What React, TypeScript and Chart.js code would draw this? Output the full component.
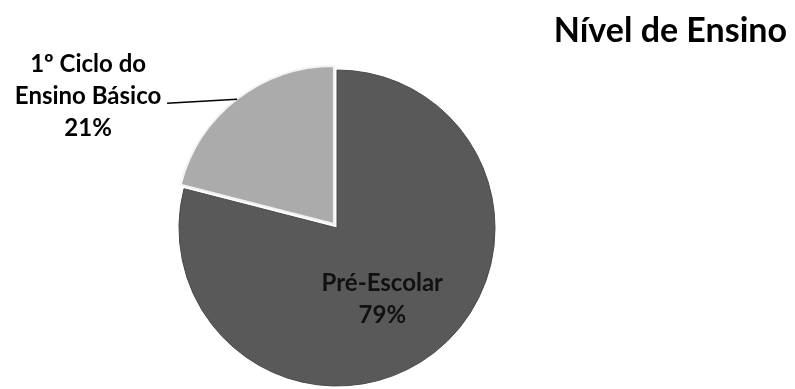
import React, { useEffect, useRef } from "react";
import { Chart, registerables } from "chart.js";

Chart.register(...registerables);

const categories = ["Pré-Escolar", "1º Ciclo do Ensino Básico"];
const values = [79, 21];
const labelLines = [["Pré-Escolar"], ["1º Ciclo do", "Ensino Básico"]];
const sliceColors = ["#595959", "#ababab"];
const sliceOffsets = [0, 20];
const chartTitle = "Nível de Ensino";

const FONT = "Lato, 'Open Sans', sans-serif";

const labelPlugin = {
  id: "pieLabels",
  afterDatasetsDraw(chart: any) {
    const meta = chart.getDatasetMeta(0);
    const ctx = chart.ctx as CanvasRenderingContext2D;
    const total = values.reduce((a, b) => a + b, 0);
    ctx.save();
    ctx.font = `bold 24px ${FONT}`;
    ctx.textAlign = "center";
    ctx.textBaseline = "middle";
    meta.data.forEach((arc: any, i: number) => {
      const p = arc.getProps(["x", "y", "startAngle", "endAngle", "outerRadius"], true);
      const mid = (p.startAngle + p.endAngle) / 2;
      const off = (sliceOffsets[i] || 0) / 4;
      const cx = p.x + Math.cos(mid) * off;
      const cy = p.y + Math.sin(mid) * off;
      const pct = Math.round((values[i] / total) * 100) + "%";
      const lines = [...labelLines[i], pct];
      const lh = 32;
      if (i === 0) {
        const px = cx + Math.cos(mid) * p.outerRadius * 0.53 - 6;
        const py = cy + Math.sin(mid) * p.outerRadius * 0.53 + 5;
        ctx.fillStyle = "#111111";
        lines.forEach((t, k) => {
          ctx.fillText(t, px, py + (k - (lines.length - 1) / 2) * lh);
        });
      } else {
        const ex = cx + Math.cos(mid) * p.outerRadius;
        const ey = cy + Math.sin(mid) * p.outerRadius;
        const sx = ex - 70;
        const sy = ey + 4;
        ctx.strokeStyle = "#000000";
        ctx.lineWidth = 1.5;
        ctx.beginPath();
        ctx.moveTo(sx, sy);
        ctx.lineTo(ex, ey);
        ctx.stroke();
        const tx = sx - 79;
        const ty = ey - 3;
        ctx.fillStyle = "#000000";
        lines.forEach((t, k) => {
          ctx.fillText(t, tx, ty + (k - (lines.length - 1) / 2) * lh);
        });
      }
    });
    ctx.font = `bold 34px ${FONT}`;
    ctx.textAlign = "right";
    ctx.textBaseline = "alphabetic";
    ctx.fillStyle = "#000000";
    ctx.fillText(chartTitle, chart.width - 8, 42);
    ctx.restore();
  },
};

export default function App() {
  const ref = useRef<HTMLCanvasElement | null>(null);
  useEffect(() => {
    if (!ref.current) return;
    const chart = new Chart(ref.current, {
      type: "pie",
      data: {
        labels: categories,
        datasets: [
          {
            data: values,
            backgroundColor: sliceColors,
            borderColor: ["#4a4a4a", "#f2f2f2"],
            borderWidth: [1, 2],
            offset: sliceOffsets,
          },
        ],
      },
      options: {
        responsive: false,
        animation: false,
        radius: 158,
        layout: { padding: { top: 67, bottom: 0, left: 0, right: 121 } },
        plugins: {
          legend: { display: false },
          tooltip: { enabled: false },
          title: { display: false },
        },
      } as any,
      plugins: [labelPlugin],
    });
    return () => chart.destroy();
  }, []);
  return (
    <div style={{ position: "absolute", left: 0, top: 0, width: 795, height: 389, background: "#ffffff" }}>
      <canvas ref={ref} width={795} height={389} />
    </div>
  );
}
